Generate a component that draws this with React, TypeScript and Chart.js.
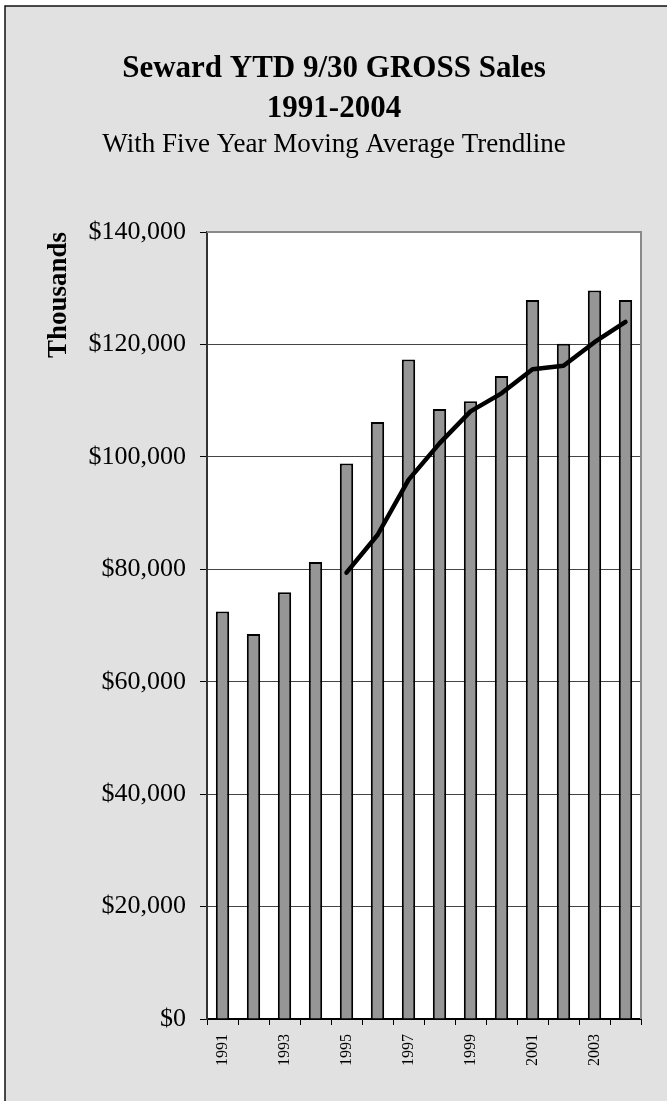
import React, { useEffect, useRef } from "react";
import { Chart, registerables } from "chart.js";

Chart.register(...registerables);

const years = ["1991", "1992", "1993", "1994", "1995", "1996", "1997", "1998", "1999", "2000", "2001", "2002", "2003", "2004"];
const grossSales = [72.5, 68.5, 75.9, 81.3, 98.8, 106.2, 117.3, 108.5, 109.9, 114.4, 127.9, 120.1, 129.6, 127.9].map((v) => v * 1000);
const movingAverage = [null, null, null, null, 79.4, 86.1, 95.9, 102.4, 108.1, 111.3, 115.6, 116.2, 120.4, 124.0].map((v) => (v === null ? null : v * 1000));
const xTickLabels = ["1991", "", "1993", "", "1995", "", "1997", "", "1999", "", "2001", "", "2003", ""];
const yTicks = [0, 20000, 40000, 60000, 80000, 100000, 120000, 140000];
const titleLines = ["Seward YTD 9/30 GROSS Sales", "1991-2004"];
const subtitle = "With Five Year Moving Average Trendline";
const yAxisTitle = "Thousands";

const SERIF = "'Liberation Serif', 'Times New Roman', Times, serif";
const W = 667;
const H = 1101;

const framePlugin = {
  id: "frame",
  beforeDraw(chart: any) {
    const { ctx, chartArea } = chart;
    ctx.save();
    ctx.fillStyle = "#ffffff";
    ctx.fillRect(0, 0, W, H);
    ctx.fillStyle = "#e1e1e1";
    ctx.fillRect(5, 6, W - 5, H - 6);
    ctx.strokeStyle = "#111111";
    ctx.lineWidth = 1.5;
    ctx.beginPath();
    ctx.moveTo(5, H);
    ctx.lineTo(5, 6);
    ctx.lineTo(W, 6);
    ctx.stroke();
    ctx.fillStyle = "#ffffff";
    ctx.fillRect(chartArea.left, chartArea.top, chartArea.right - chartArea.left, chartArea.bottom - chartArea.top);
    ctx.restore();
  },
  afterDraw(chart: any) {
    const { ctx, chartArea } = chart;
    ctx.save();
    ctx.strokeStyle = "#8a8a8a";
    ctx.lineWidth = 2;
    ctx.beginPath();
    ctx.moveTo(chartArea.left, chartArea.top);
    ctx.lineTo(chartArea.right, chartArea.top);
    ctx.lineTo(chartArea.right, chartArea.bottom);
    ctx.stroke();

    ctx.fillStyle = "#000000";
    ctx.textAlign = "center";
    ctx.textBaseline = "alphabetic";
    ctx.font = `bold 31px ${SERIF}`;
    ctx.fillText(titleLines[0], 334, 77);
    ctx.fillText(titleLines[1], 334, 117);
    ctx.font = `27px ${SERIF}`;
    ctx.fillText(subtitle, 334, 152);
    ctx.restore();
  },
};

export default function App() {
  const ref = useRef<HTMLCanvasElement | null>(null);

  useEffect(() => {
    if (!ref.current) return;
    const chart = new Chart(ref.current, {
      type: "bar",
      data: {
        labels: years,
        datasets: [
          {
            type: "line",
            label: "5 Year Moving Average",
            data: movingAverage as any,
            borderColor: "#000000",
            borderWidth: 4.5,
            pointRadius: 0,
            tension: 0,
            borderCapStyle: "round",
            borderJoinStyle: "round",
            spanGaps: false,
            order: 0,
          } as any,
          {
            type: "bar",
            label: "Gross Sales",
            data: grossSales,
            backgroundColor: "#969696",
            borderColor: "#000000",
            borderWidth: 2,
            barPercentage: 0.43,
            categoryPercentage: 1,
            order: 1,
          },
        ],
      },
      options: {
        responsive: false,
        animation: false,
        devicePixelRatio: 1,
        layout: { padding: { top: 232, right: 26, left: 0, bottom: 0 } },
        plugins: {
          legend: { display: false },
          tooltip: { enabled: false },
          title: { display: false },
        },
        scales: {
          x: {
            afterFit(scale: any) {
              scale.height = 82;
            },
            grid: {
              offset: true,
              drawOnChartArea: false,
              drawTicks: true,
              tickLength: 6,
              color: "#000000",
              lineWidth: 1,
            },
            border: { display: true, color: "#000000", width: 2 },
            ticks: {
              autoSkip: false,
              minRotation: 90,
              maxRotation: 90,
              padding: 9,
              color: "#000000",
              font: { family: SERIF, size: 16 },
              callback: (_v: any, i: number) => xTickLabels[i],
            },
          },
          y: {
            min: yTicks[0],
            max: yTicks[yTicks.length - 1],
            afterFit(scale: any) {
              scale.width = 207;
            },
            afterBuildTicks(scale: any) {
              scale.ticks = yTicks.map((v) => ({ value: v }));
            },
            grid: {
              color: "#444444",
              lineWidth: 1,
              drawTicks: true,
              tickLength: 7,
              tickColor: "#000000",
            },
            border: { display: true, color: "#333333", width: 2 },
            ticks: {
              padding: 14,
              color: "#000000",
              font: { family: SERIF, size: 26 },
              callback: (v: any) => "$" + Number(v).toLocaleString("en-US"),
            },
            title: {
              display: true,
              text: yAxisTitle,
              align: "end",
              color: "#000000",
              font: { family: SERIF, size: 27, weight: "bold" },
              padding: { top: 43, bottom: 0 },
            },
          },
        },
      },
      plugins: [framePlugin],
    });
    return () => chart.destroy();
  }, []);

  return (
    <div style={{ position: "fixed", left: 0, top: 0, width: W, height: H }}>
      <canvas ref={ref} width={W} height={H} style={{ width: W, height: H, display: "block" }} />
    </div>
  );
}
